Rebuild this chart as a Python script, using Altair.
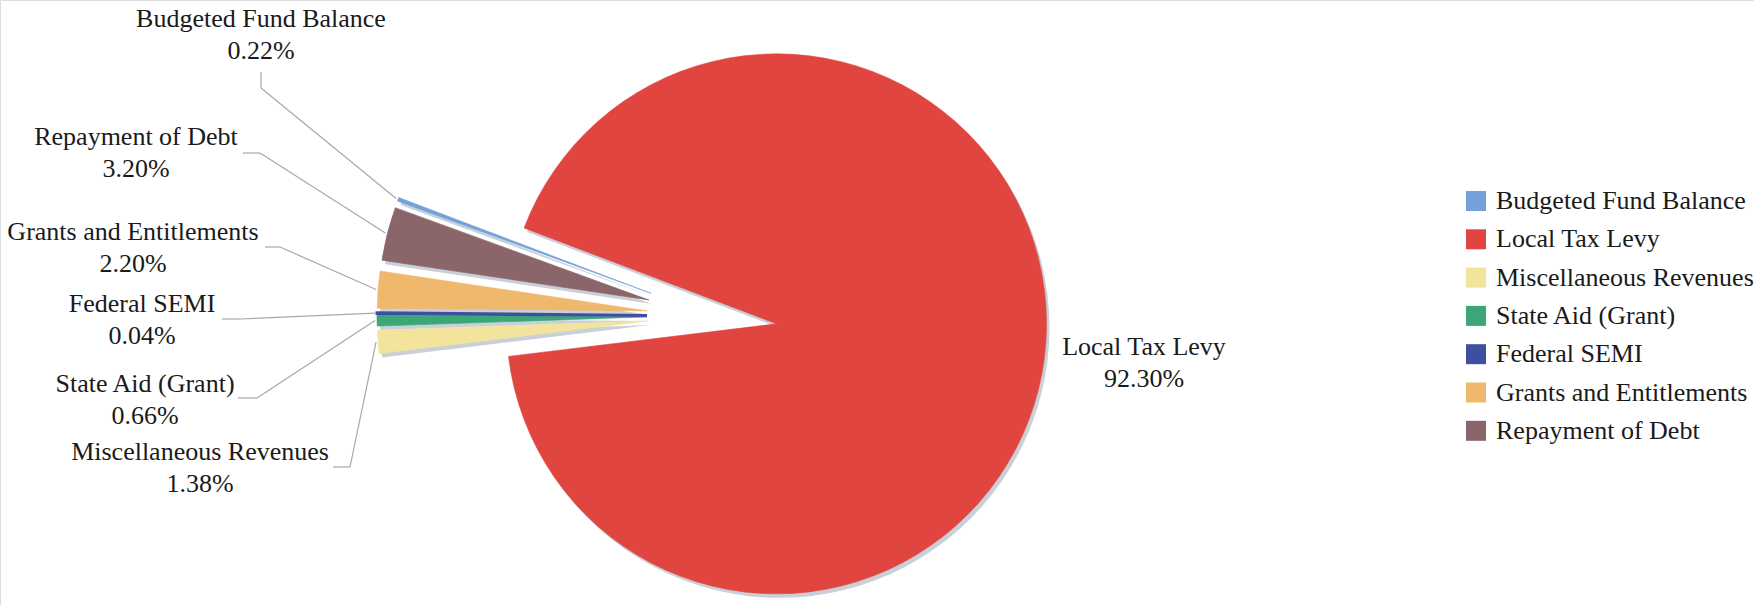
import math
import altair as alt
import pandas as pd

# ---- data ----
categories = [
    "Budgeted Fund Balance",
    "Local Tax Levy",
    "Miscellaneous Revenues",
    "State Aid (Grant)",
    "Federal SEMI",
    "Grants and Entitlements",
    "Repayment of Debt",
]
shares = [0.22, 92.30, 1.38, 0.66, 0.04, 2.20, 3.20]
colors = ["#74a1d9", "#e1453f", "#f2e49c", "#3ba777", "#3f4fa0", "#efb86c", "#8a6569"]

# ---- layout (label anchors and leader-line elbows, pixels) ----
label_x = [261, 1144, 200, 145, 142, 133, 136]
label_y = [27, 355, 460, 392, 312, 240, 145]
stub_x1 = [261, None, 333, 238, 222, 265, 243]
stub_y1 = [72, None, 467, 398, 319, 247, 153]
stub_x2 = [261, None, 350, 257, 240, 280, 260]
stub_y2 = [88, None, 467, 398, 319, 247, 153]

CX, CY = 712, 316        # pie centre before explosion
EXPLODE = 65             # explosion distance
R = 270                  # radius
T0 = 290 * math.pi / 180 # start angle of first slice

df = pd.DataFrame({
    "order": list(range(len(categories))),
    "name": categories,
    "value": shares,
    "lx": label_x, "ly": label_y,
    "sx1": stub_x1, "sy1": stub_y1, "sx2": stub_x2, "sy2": stub_y2,
})

base = alt.Chart(df).transform_window(
    end="sum(value)", sort=[alt.SortField("order")], frame=[None, 0]
).transform_calculate(
    start="datum.end - datum.value",
    ang=f"{T0} + (datum.end - datum.value / 2) / 100 * 2 * PI",
).transform_calculate(
    cx=f"{CX} + {EXPLODE} * sin(datum.ang)",
    cy=f"{CY} - {EXPLODE} * cos(datum.ang)",
    shx=f"{CX} + {EXPLODE} * sin(datum.ang) + 3",
    shy=f"{CY} - {EXPLODE} * cos(datum.ang) + 4",
    ex=f"{CX} + ({EXPLODE} + {R} + 2) * sin(datum.ang)",
    ey=f"{CY} - ({EXPLODE} + {R} + 2) * cos(datum.ang)",
    lbl="[datum.name, format(datum.value, '.2f') + '%']",
)

theta_scale = alt.Scale(domain=[0, 100], range=[T0, T0 + 2 * math.pi])
color_scale = alt.Scale(domain=categories, range=colors)

shadow = base.mark_arc(outerRadius=R, color="#c9d0d8", strokeWidth=0).encode(
    theta=alt.Theta("start:Q", scale=theta_scale),
    theta2="end:Q",
    x=alt.X("shx:Q", scale=None),
    y=alt.Y("shy:Q", scale=None),
)

slices = base.mark_arc(outerRadius=R).encode(
    theta=alt.Theta("start:Q", scale=theta_scale),
    theta2="end:Q",
    x=alt.X("cx:Q", scale=None),
    y=alt.Y("cy:Q", scale=None),
    stroke=alt.Stroke("name:N", scale=color_scale, legend=None),
    strokeWidth=alt.condition("datum.value < 0.1", alt.value(3), alt.value(0.6)),
    color=alt.Color(
        "name:N",
        scale=color_scale,
        sort=categories,
        legend=alt.Legend(
            title=None,
            orient="none",
            legendX=1463,
            legendY=188,
            symbolType="square",
            symbolSize=400,
            symbolStrokeWidth=0,
            symbolOpacity=1,
            labelFont="Liberation Serif",
            labelFontSize=26,
            labelColor="#1a1a1a",
            labelOffset=7,
            labelLimit=400,
            rowPadding=12.3,
            padding=0,
        ),
    ),
)

stubs = base.transform_filter("isValid(datum.sx1)").mark_rule(
    color="#a8a8a8", strokeWidth=1.2
).encode(
    x=alt.X("sx1:Q", scale=None), y=alt.Y("sy1:Q", scale=None),
    x2="sx2:Q", y2="sy2:Q",
)

leaders = base.transform_filter("isValid(datum.sx1)").mark_rule(
    color="#a8a8a8", strokeWidth=1.2
).encode(
    x=alt.X("sx2:Q", scale=None), y=alt.Y("sy2:Q", scale=None),
    x2="ex:Q", y2="ey:Q",
)

labels = base.mark_text(
    font="Liberation Serif", fontSize=26, align="center",
    baseline="alphabetic", lineHeight=32, color="#1a1a1a",
).encode(
    x=alt.X("lx:Q", scale=None),
    y=alt.Y("ly:Q", scale=None),
    text="lbl:N",
)

chart = alt.layer(shadow, slices, stubs, leaders, labels).properties(
    width=1754, height=605, padding=0,
    autosize=alt.AutoSizeParams(type="none"),
).configure_view(stroke=None).configure(background="white")

chart.save("out.html", embed_options={"renderer": "svg", "actions": False})
